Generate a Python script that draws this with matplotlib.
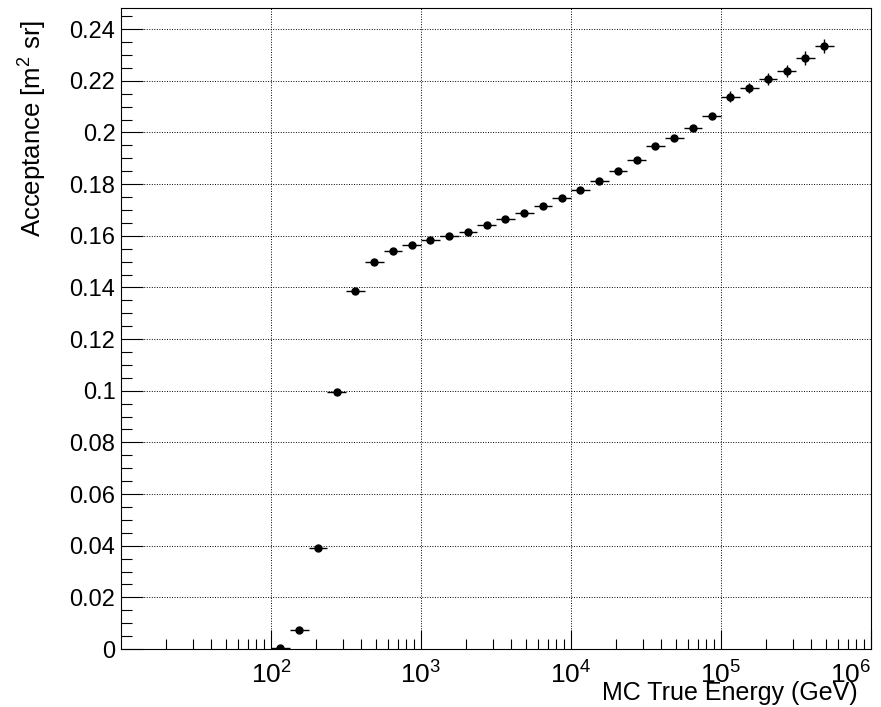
import numpy as np
import matplotlib
matplotlib.use("Agg")
import matplotlib.pyplot as plt
from matplotlib.ticker import FixedLocator, LogLocator, MultipleLocator, FuncFormatter, NullFormatter

plt.rcParams["font.family"] = ["Liberation Sans", "DejaVu Sans"]
plt.rcParams["mathtext.fontset"] = "custom"
plt.rcParams["mathtext.rm"] = "Liberation Sans"
plt.rcParams["mathtext.it"] = "Liberation Sans:italic"

# acceptance histogram: 8 log bins per decade, from 10^2 to 10^5.75 GeV
bin_edges = np.logspace(2.0, 5.75, 31)
acceptance = [0.0004, 0.0074, 0.0392, 0.0996, 0.1386, 0.1497, 0.1543, 0.1563,
              0.1582, 0.1599, 0.1614, 0.1641, 0.1664, 0.1687, 0.1716, 0.1747,
              0.1776, 0.1812, 0.1851, 0.1893, 0.1946, 0.1978, 0.2018, 0.2065,
              0.2138, 0.2172, 0.2208, 0.2239, 0.2289, 0.2336]
acc_err = [0.0001, 0.0002, 0.0003, 0.0004, 0.0005, 0.0005, 0.0005, 0.0005,
           0.0005, 0.0005, 0.0006, 0.0006, 0.0006, 0.0006, 0.0006, 0.0007,
           0.0007, 0.0007, 0.0008, 0.0008, 0.0008, 0.0009, 0.0009, 0.0010,
           0.0021, 0.0021, 0.0023, 0.0024, 0.0026, 0.0027]

lo = bin_edges[:-1]
hi = bin_edges[1:]
centers = np.sqrt(lo * hi)

fig = plt.figure(figsize=(8.81, 7.07), dpi=100)
ax = fig.add_axes([121 / 881, 1 - 649 / 707, 750 / 881, 641 / 707])

ax.errorbar(centers, acceptance, xerr=[centers - lo, hi - centers], yerr=acc_err,
            fmt="o", color="k", ms=5, elinewidth=1.0, capsize=0, zorder=3)

ax.set_xscale("log")
ax.set_xlim(10, 1e6)
ax.set_ylim(0, 0.2482)

ax.xaxis.set_major_locator(FixedLocator([1e2, 1e3, 1e4, 1e5, 1e6]))
ax.xaxis.set_minor_locator(LogLocator(base=10, subs=np.arange(2, 10), numticks=20))
ax.xaxis.set_minor_formatter(NullFormatter())
ax.xaxis.set_major_formatter(FuncFormatter(lambda v, p: r"$10^{%d}$" % round(np.log10(v))))

ax.yaxis.set_major_locator(MultipleLocator(0.02))
ax.yaxis.set_minor_locator(MultipleLocator(0.005))
ax.yaxis.set_major_formatter(FuncFormatter(lambda v, p: "%g" % round(v, 3)))

ax.tick_params(axis="both", which="both", direction="in", width=0.8,
               top=False, right=False, color="k")
ax.tick_params(axis="y", which="major", length=15.8, labelsize=17, pad=4)
ax.tick_params(axis="y", which="minor", length=7.9)
ax.tick_params(axis="x", which="major", length=13.9, labelsize=19, pad=9)
ax.tick_params(axis="x", which="minor", length=7.2)

ax.grid(True, which="major", linestyle=(0, (1, 1.6)), linewidth=0.7, color="k")
ax.set_axisbelow(True)
for s in ax.spines.values():
    s.set_linewidth(0.8)

# keep the last decade label inside the canvas
fig.canvas.draw()
ax.get_xticklabels()[-1].set_horizontalalignment("right")

fig.text(33 / 881, 1 - 20 / 707, r"Acceptance [m$^{2}$ sr]", rotation=90,
         ha="center", va="top", fontsize=18.5)
fig.text(858 / 881, 1 - 700 / 707, "MC True Energy (GeV)",
         ha="right", va="baseline", fontsize=18)

fig.savefig("out.png", dpi=100)
